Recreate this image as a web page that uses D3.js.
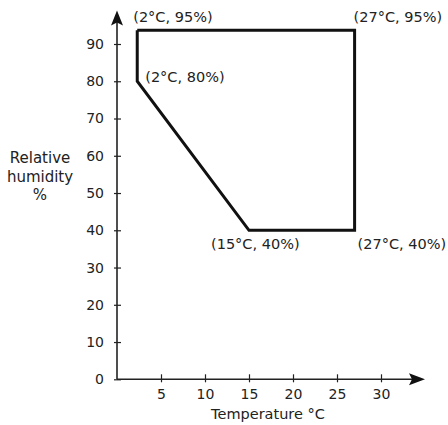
<!DOCTYPE html>
<html>
<head>
<meta charset="utf-8">
<script src="https://cdn.jsdelivr.net/npm/d3@7"></script>
<style>
  body { margin: 0; background: #fff; }
  text { font-family: "DejaVu Sans", sans-serif; font-size: 14px; fill: #222; }
  .pt-label, .x-title { font-size: 14.5px; }
  .y-title { font-size: 15px; }
</style>
</head>
<body>
<div id="chart"></div>
<script>
// outline of the region
var temps = [2.3, 2.3, 15, 27, 27];
var humidity = [93.7, 80, 40, 40, 93.7];

var pointLabels = ["(2°C, 95%)", "(2°C, 80%)", "(15°C, 40%)", "(27°C, 40%)", "(27°C, 95%)"];
var xTicks = [5, 10, 15, 20, 25, 30];
var yTicks = [0, 10, 20, 30, 40, 50, 60, 70, 80, 90];

var width = 448;
var height = 425;

var svg = d3.select("#chart").append("svg")
    .attr("width", width)
    .attr("height", height);

var x = d3.scaleLinear().domain([0, 30]).range([117, 381]);
var y = d3.scaleLinear().domain([0, 90]).range([379.3, 44]);

// axes
var xAxis = svg.append("g")
    .attr("transform", "translate(0," + y(0) + ")")
    .call(d3.axisBottom(x).tickValues(xTicks).tickSize(3).tickPadding(7));
xAxis.select(".domain").remove();
xAxis.selectAll(".tick line").attr("y1", -5).attr("y2", 3).attr("stroke", "#222").attr("stroke-width", 1.2);
xAxis.selectAll("text").attr("font-family", null).attr("font-size", null);

var yAxis = svg.append("g")
    .attr("transform", "translate(" + x(0) + ",0)")
    .call(d3.axisLeft(y).tickValues(yTicks).tickSize(3).tickPadding(10));
yAxis.select(".domain").remove();
yAxis.selectAll(".tick line").attr("x1", 4).attr("x2", -3).attr("stroke", "#222").attr("stroke-width", 1.2);
yAxis.selectAll("text").attr("font-family", null).attr("font-size", null);

// axis lines with arrowheads
var x0 = x(0), y0 = y(0);
var yTop = y(99), xEnd = x(35);
svg.append("line")
    .attr("x1", x0).attr("y1", y0).attr("x2", x0).attr("y2", yTop + 8)
    .attr("stroke", "#222").attr("stroke-width", 1.6);
svg.append("line")
    .attr("x1", x0).attr("y1", y0).attr("x2", xEnd - 8).attr("y2", y0)
    .attr("stroke", "#222").attr("stroke-width", 1.6);
svg.append("path")
    .attr("d", "M" + x0 + "," + yTop + "L" + (x0 + 6) + "," + (yTop + 15) +
      "L" + x0 + "," + (yTop + 12) + "L" + (x0 - 6) + "," + (yTop + 15) + "Z")
    .attr("fill", "#111");
svg.append("path")
    .attr("d", "M" + xEnd + "," + y0 + "L" + (xEnd - 16) + "," + (y0 - 6) +
      "L" + (xEnd - 13) + "," + y0 + "L" + (xEnd - 16) + "," + (y0 + 6) + "Z")
    .attr("fill", "#111");

// the outline
var pts = temps.map(function (t, i) { return [t, humidity[i]]; });
var line = d3.line()
    .x(function (d) { return x(d[0]); })
    .y(function (d) { return y(d[1]); });
svg.append("path")
    .datum(pts.concat([pts[0]]))
    .attr("d", line)
    .attr("fill", "none")
    .attr("stroke", "#111")
    .attr("stroke-width", 3)
    .attr("stroke-linejoin", "miter");

// corner labels
var labelOffsets = [[-4, -8], [8, 1], [-38, 19], [3, 19], [-1, -8]];
svg.selectAll(".pt-label")
    .data(pts)
    .enter().append("text")
    .attr("class", "pt-label")
    .attr("x", function (d, i) { return x(d[0]) + labelOffsets[i][0]; })
    .attr("y", function (d, i) { return y(d[1]) + labelOffsets[i][1]; })
    .text(function (d, i) { return pointLabels[i]; });

// axis titles
svg.append("text")
    .attr("class", "x-title")
    .attr("x", 268).attr("y", 419)
    .attr("text-anchor", "middle")
    .text("Temperature °C");

var yTitle = svg.append("text")
    .attr("class", "y-title")
    .attr("x", 40).attr("y", 163)
    .attr("text-anchor", "middle");
["Relative", "humidity", "%"].forEach(function (s, i) {
    yTitle.append("tspan")
        .attr("x", 40)
        .attr("dy", i === 0 ? 0 : 18.5)
        .text(s);
});
</script>
</body>
</html>
